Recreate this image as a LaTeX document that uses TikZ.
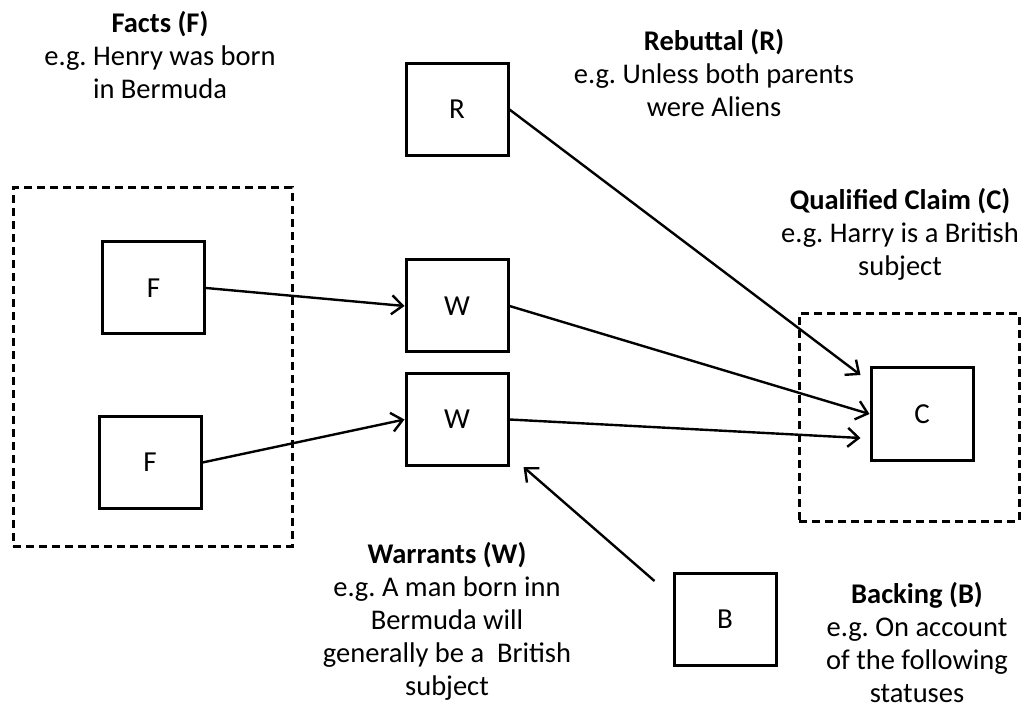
\documentclass[tikz,border=0pt]{standalone}
\usepackage{fontspec}
\setmainfont{Carlito}
\usetikzlibrary{arrows.meta,calc}
\frenchspacing
\begin{document}
\begin{tikzpicture}[x=1pt,y=-1pt,
  box/.style={draw,line width=3pt,minimum width=102pt,minimum height=92pt,inner sep=0pt,font=\fontsize{29}{33}\selectfont},
  group/.style={draw,line width=3pt,dash pattern=on 8pt off 5pt,inner sep=0pt},
  label/.style={align=center,anchor=base,inner sep=0pt,font=\frenchspacing\fontsize{28.5}{33}\selectfont},
  link/.style={line width=2.4pt,-{Straight Barb[length=11pt,width=19pt,line width=2.4pt]}}]
\useasboundingbox (0,0) rectangle (1023,708);
% groups
\node[group,minimum width=279pt,minimum height=358pt] (gF) at (152.5,367) {};
\node[group,minimum width=220pt,minimum height=207pt] (gC) at (909,417.5) {};
% boxes
\node[box] (F1) at (153.5,288) {F};
\node[box] (F2) at (150,462.5) {F};
\node[box] (W1) at (457,306) {W};
\node[box] (W2) at (457,419.5) {W};
\node[box] (R) at (457,109.5) {R};
\node[box] (C) at (922,414) {C};
\node[box] (B) at (725,619.5) {B};
% labels (anchor at baseline of last line)
\node[label] (tF) at (160,99) {\textbf{Facts (F)}\\e.g. Henry was born\\in Bermuda};
\node[label] (tR) at (714,117) {\textbf{Rebuttal (R)}\\e.g. Unless both parents\\were Aliens};
\node[label] (tC) at (900,276) {\textbf{Qualified Claim (C)}\\e.g. Harry is a British\\subject};
\node[label] (tW) at (447,695) {\textbf{Warrants (W)}\\e.g. A man born inn\\Bermuda will\\generally be a\ \ British\\subject};
\node[label] (tB) at (917,702) {\textbf{Backing (B)}\\e.g. On account\\of the following\\statuses};
% connectors
\draw[link] (F1.east) -- (W1.west);
\draw[link] (F2.east) -- (W2.west);
\draw[link] (W1.east) -- (C.west);
\draw[link] (W2.east) -- ([shift={(-9,24)}]C.west);
\draw[link] (R.east) -- ([shift={(-9,-39)}]C.west);
\draw[link] ([shift={(-18,9)}]B.north west) -- ([shift={(14,0)}]W2.south east);
\end{tikzpicture}
\end{document}
